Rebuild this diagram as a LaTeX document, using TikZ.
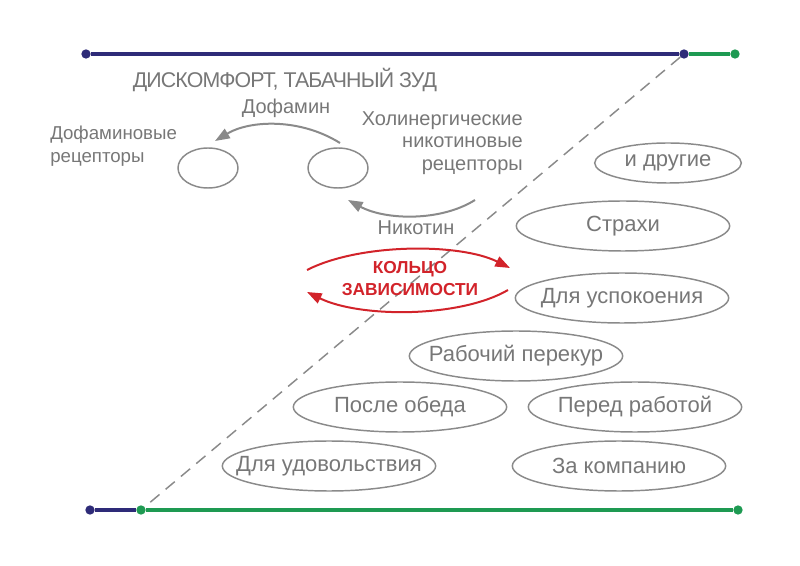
\documentclass[tikz,border=0pt]{standalone}
\usepackage{fontspec}
\setmainfont{Liberation Sans}
\newfontfamily\tightfont[LetterSpace=-4]{Liberation Sans}
\usetikzlibrary{shapes.geometric,arrows.meta}
\definecolor{txtgray}{HTML}{777777}
\definecolor{linegray}{HTML}{8A8A8A}
\definecolor{railblue}{HTML}{2E2B78}
\definecolor{railgreen}{HTML}{1E9A52}
\definecolor{ringred}{HTML}{D2232A}
\tikzset{
	oval/.style={ellipse,draw=linegray,line width=1.1pt,inner xsep=-40pt,inner ysep=-10pt,minimum width=160pt,minimum height=37.5pt,text=txtgray,font=\fontsize{16.5}{18}\selectfont},
	cell/.style={ellipse,draw=linegray,line width=1.1pt,inner sep=0pt,minimum width=45pt,minimum height=30pt},
	lbl/.style={text=txtgray,font=\fontsize{15}{17}\selectfont,inner sep=0pt},
	railend/.style={circle,inner sep=0pt,minimum size=7pt,fill=#1},
	flow/.style={draw=linegray,line width=1.5pt,-{Triangle[length=11pt,width=8pt]}},
	ring/.style={draw=ringred,line width=1.5pt,-{Triangle[length=11pt,width=8pt]}}
}
\begin{document}
\begin{tikzpicture}[x=0.75pt,y=-0.75pt]
			\useasboundingbox (0,0) rectangle (800,566);
			
			% rails
			\node[railend=railblue] (tl) at (86,54) {};
			\node[railend=railblue] (tm) at (684,54) {};
			\node[railend=railgreen] (tr) at (735,54) {};
			\node[railend=railblue] (bl) at (90,510) {};
			\node[railend=railgreen] (bm) at (141,510) {};
			\node[railend=railgreen] (br) at (738,510) {};
			\draw[linegray,line width=1.1pt,dash pattern=on 9pt off 6pt] (tm) -- (bm);
			\draw[railblue,line width=3pt] (tl) -- (tm); \draw[railgreen,line width=3pt] (tm) -- (tr);
			\draw[railblue,line width=3pt] (bl) -- (bm); \draw[railgreen,line width=3pt] (bm) -- (br);
			
			% receptors
			\node[lbl,font=\tightfont\fontsize{16}{18}\selectfont] (title) at (285,80) {ДИСКОМФОРТ, ТАБАЧНЫЙ ЗУД};
			\node[lbl] (dopa) at (286,108) {Дофамин};
			\node[lbl,font=\fontsize{14}{17}\selectfont,align=left,anchor=west] (dlbl) at (50,146) {Дофаминовые\\рецепторы};
			\node[lbl,align=right,anchor=east] (clbl) at (523,143) {Холинергические\\никотиновые\\рецепторы};
			\node[cell] (drec) at (208,168) {};
			\node[cell] (crec) at (338,168) {};
			\node[lbl] (nico) at (416,228) {Никотин};
			\coordinate (d1) at (340,143); \coordinate (d2) at (215,141);
			\draw[flow] (d1) .. controls (300,118) and (250,120) .. (d2);
			\coordinate (n1) at (475,200); \coordinate (n2) at (348,200);
			\draw[flow] (n1) .. controls (440,222) and (385,220) .. (n2);
			
			% ring
			\node[text=ringred,font=\bfseries\fontsize{13}{16.5}\selectfont,align=center,inner sep=0pt] (loop) at (410,279) {КОЛЬЦО\\ЗАВИСИМОСТИ};
			\coordinate (r1) at (307,270); \coordinate (r2) at (510,268);
			\draw[ring] (r1) .. controls (360,243) and (460,243) .. (r2);
			\coordinate (r3) at (508,290); \coordinate (r4) at (307,292);
			\draw[ring] (r3) .. controls (460,318) and (360,318) .. (r4);
			
			% reasons
			\node[oval,minimum width=110pt,minimum height=30pt] (others) at (668,163) {и другие};
			\node[oval] (fear) at (623,226) {Страхи};
			\node[oval] (calm) at (622,298) {Для успокоения};
			\node[oval] (work) at (516,356) {Рабочий перекур};
			\node[oval] (lunch) at (400,407) {После обеда};
			\node[oval] (before) at (635,407) {Перед работой};
			\node[oval] (joy) at (329,466) {Для удовольствия};
			\node[oval] (company) at (619,466) {За компанию};
\end{tikzpicture}
\end{document}
